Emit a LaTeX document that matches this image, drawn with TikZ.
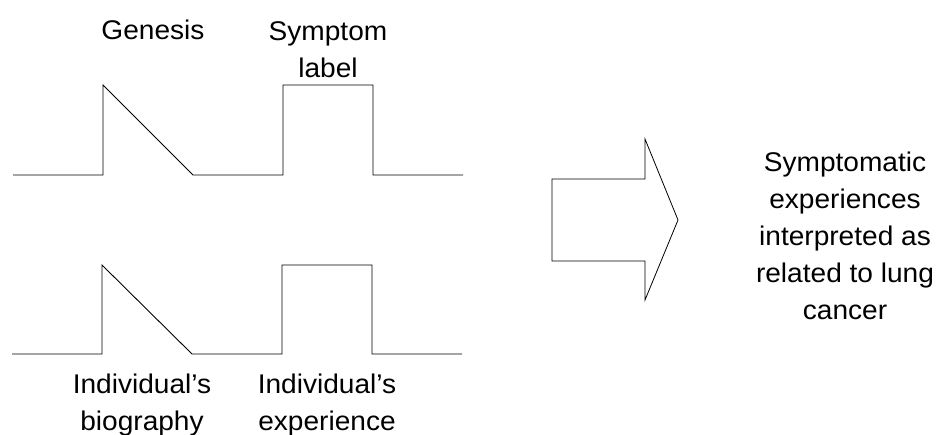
\documentclass[tikz,border=0pt]{standalone}
\usepackage{fontspec}
\setmainfont[FakeStretch=1.04]{Liberation Sans}
\begin{document}
\begin{tikzpicture}[x=1pt,y=-1pt,
  wave/.style={line width=0.9pt,line join=miter},
  lbl/.style={font=\fontsize{27}{37}\selectfont,align=center,inner sep=0pt,anchor=base},
  bigarrow/.style={line width=0.8pt,line join=miter}]
  \useasboundingbox (0,0) rectangle (936,434);

  % upper trace: genesis ramp followed by symptom pulse
  \draw[wave] (13,175) -- (103,175) -- (103,85) -- (193,175) -- (283,175)
    -- (283,85) -- (373,85) -- (373,175) -- (463,175);
  % lower trace: biography ramp followed by experience pulse
  \draw[wave] (12,354) -- (102,354) -- (102,265) -- (192,354) -- (282,354)
    -- (282,265) -- (372,265) -- (372,354) -- (462,354);

  % multi-line labels are anchored at the baseline of their last line
  \node[lbl] (genesis) at (153,39) {Genesis};
  \node[lbl] (symptom) at (328,77) {Symptom\\label};
  \node[lbl] (bio) at (142,430) {Individual's\\biography};
  \node[lbl] (exp) at (327,430) {Individual's\\experience};

  % block arrow
  \draw[bigarrow] (552,179) -- (645,179) -- (645,139) -- (678,220)
    -- (645,300) -- (645,261) -- (552,261) -- cycle;

  \node[lbl] (result) at (845,319)
    {Symptomatic\\experiences\\interpreted as\\related to lung\\cancer};
\end{tikzpicture}
\end{document}
